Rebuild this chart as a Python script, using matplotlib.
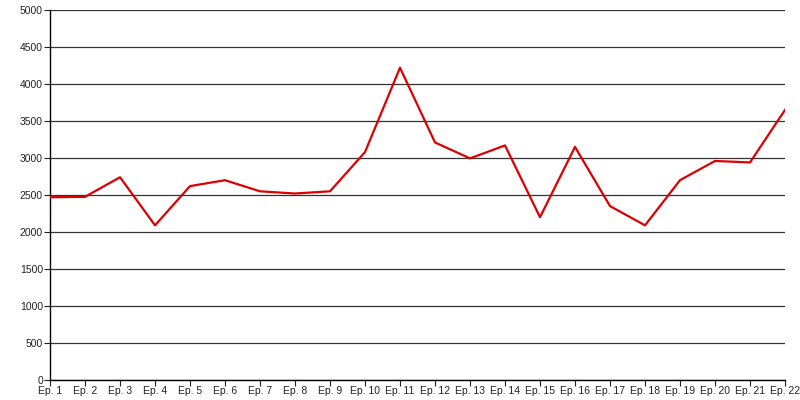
import matplotlib
matplotlib.use('Agg')
import matplotlib.pyplot as plt

# 에피소드별 값
episodes = [f"Ep. {i}" for i in range(1, 23)]
values = [2470, 2475, 2740, 2090, 2620, 2700, 2550, 2520, 2550, 3080, 4220,
          3210, 2995, 3170, 2200, 3150, 2350, 2090, 2700, 2960, 2940, 3650]
y_ticks = list(range(0, 5001, 500))

plt.rcParams['font.family'] = ['Liberation Sans', 'DejaVu Sans']

fig = plt.figure(figsize=(8, 4), dpi=100)
ax = fig.add_axes([0.0625, 0.05, 0.91875, 0.925])

x = list(range(len(episodes)))
ax.plot(x, values, color='#dd0000', lw=1.6, zorder=3)

ax.set_xlim(0, len(episodes) - 1)
ax.set_ylim(0, 5000)
ax.set_yticks(y_ticks)
ax.set_xticks(x)
ax.set_xticklabels(episodes)
ax.yaxis.grid(True, color='#333333', lw=0.9)
ax.set_axisbelow(True)

for side in ('top', 'right'):
    ax.spines[side].set_visible(False)
for side in ('left', 'bottom'):
    ax.spines[side].set_color('black')
    ax.spines[side].set_linewidth(1)

ax.tick_params(axis='both', labelsize=7.5, colors='#222222', length=4, width=0.8, pad=1)
ax.tick_params(axis='x', pad=0)

fig.savefig('out.png', dpi=100)
